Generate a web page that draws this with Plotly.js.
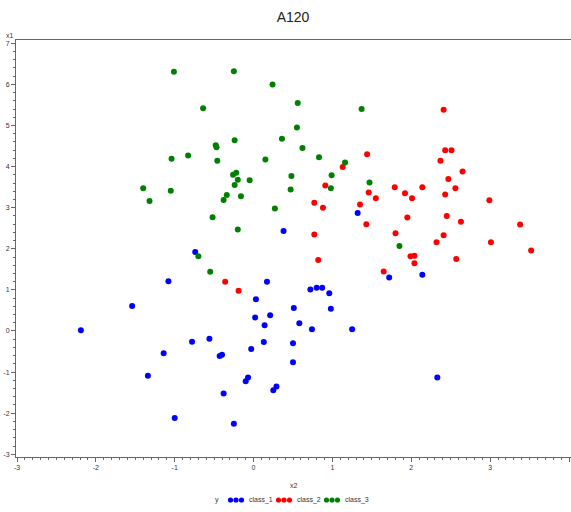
<!DOCTYPE html>
<html>
<head>
<meta charset="utf-8">
<script src="https://cdn.plot.ly/plotly-3.0.1.min.js"></script>
<style>
  html, body { margin: 0; padding: 0; background: #ffffff; }
  #chart { width: 571px; height: 512px; }
</style>
</head>
<body>
<div id="chart"></div>
<script>
// Class labels and colours
const classNames = ['class_1', 'class_2', 'class_3'];
const classColors = ['#0000ff', '#ff0000', '#008000'];

// class_1 observations (x2, x1)
const class1X2 = [-2.19, -1.54, -1.08, -0.74, 0.03, 0.02, -0.56, -0.78, -0.03, -1.14,
                  -0.43, -0.40, -1.34, -0.07, -0.10, -0.38, -1.00, -0.25, 0.38, 0.17,
                  0.72, 0.80, 0.87, 0.96, 0.51, 0.98, 0.21, 0.14, 0.58, 0.74,
                  1.25, 0.13, 0.50, 0.50, 0.29, 0.25, 2.33, 1.32, 1.72, 2.14];
const class1X1 = [0.02, 0.61, 1.21, 1.92, 0.77, 0.33, -0.19, -0.26, -0.44, -0.54,
                  -0.61, -0.58, -1.09, -1.13, -1.22, -1.52, -2.12, -2.26, 2.43, 1.20,
                  1.01, 1.05, 1.05, 0.92, 0.56, 0.54, 0.38, 0.14, 0.19, 0.04,
                  0.04, -0.27, -0.30, -0.76, -1.35, -1.44, -1.13, 2.87, 1.30, 1.37];

// class_2 observations (x2, x1)
const class2X2 = [1.13, 1.44, 0.91, 1.79, 1.46, 1.55, 0.77, 0.88, 1.35, 2.41,
                  2.43, 2.51, 2.37, 2.65, 2.47, 2.14, 2.56, 1.92, 2.01, 2.43,
                  2.99, 2.45, 1.95, 2.63, 1.43, 3.38, 0.77, 1.80, 2.41, 2.32,
                  3.01, 3.52, 1.99, 2.04, 2.04, 0.82, 2.57, 1.65, -0.36, -0.19];
const class2X1 = [3.99, 4.30, 3.54, 3.50, 3.37, 3.23, 3.12, 3.00, 3.08, 5.38,
                  4.40, 4.40, 4.14, 3.88, 3.70, 3.50, 3.47, 3.35, 3.23, 3.32,
                  3.18, 2.80, 2.76, 2.66, 2.60, 2.59, 2.35, 2.38, 2.33, 2.16,
                  2.16, 1.96, 1.82, 1.83, 1.65, 1.73, 1.75, 1.45, 1.20, 0.98];

// class_3 observations (x2, x1)
const class3X2 = [-1.01, -0.25, -0.64, -0.24, -0.47, -0.48, -1.04, -0.83, -0.46, -0.26,
                  -0.22, -0.20, -0.05, -0.24, -1.40, -1.05, -0.34, -0.16, -0.38, -1.32,
                  -0.52, 0.24, 0.56, 1.37, 0.55, 0.36, 0.62, 0.83, 0.15, 1.16,
                  0.48, 0.99, 0.98, 0.47, 1.47, 0.27, 1.85, -0.20, -0.70, -0.55];
const class3X1 = [6.31, 6.32, 5.42, 4.64, 4.47, 4.52, 4.19, 4.27, 4.14, 3.80,
                  3.85, 3.68, 3.67, 3.55, 3.47, 3.41, 3.31, 3.28, 3.19, 3.16,
                  2.77, 6.00, 5.55, 5.40, 4.95, 4.68, 4.45, 4.23, 4.17, 4.10,
                  3.77, 3.79, 3.47, 3.44, 3.61, 2.98, 2.07, 2.47, 1.82, 1.44];

// Axis tick values
const xTicks = [-3, -2, -1, 0, 1, 2, 3, 4];
const yTicks = [-3, -2, -1, 0, 1, 2, 3, 4, 5, 6, 7];

const seriesX = [class1X2, class2X2, class3X2];
const seriesY = [class1X1, class2X1, class3X1];

const traces = classNames.map((name, i) => ({
  type: 'scatter',
  mode: 'markers',
  name: name,
  x: seriesX[i],
  y: seriesY[i],
  marker: { color: classColors[i], size: 6, line: { width: 0 } },
  showlegend: false,
  hoverinfo: 'x+y+name'
}));

const W = 571, H = 512;
const M = { l: 16, r: 0, t: 40, b: 55 };
const plotW = W - M.l - M.r, plotH = H - M.t - M.b;
const px = v => (v - M.l) / plotW;          // page x -> paper x
const py = v => (H - M.b - v) / plotH;      // page y -> paper y

const tickFont = { family: 'Liberation Sans, Arial, sans-serif', size: 7, color: '#333333' };
const axisColor = '#666666';

// Legend row drawn beneath the x-axis title
const legendY = 500;
const legendDots = [228, 276, 324];
const legendText = [247, 295, 343];
const shapes = [];
legendDots.forEach((x0, i) => {
  for (let k = 0; k < 3; k++) {
    const cx = x0 + 2.5 + k * 5.5;
    shapes.push({
      type: 'circle', xref: 'paper', yref: 'paper',
      xsizemode: 'pixel', ysizemode: 'pixel',
      xanchor: px(cx), yanchor: py(legendY),
      x0: -2.6, x1: 2.6, y0: -2.6, y1: 2.6,
      fillcolor: classColors[i], line: { width: 0 }
    });
  }
});

const labelFont = { family: 'Liberation Sans, Arial, sans-serif', size: 7, color: '#333333' };
const annotations = [
  { text: 'x1', xref: 'paper', yref: 'paper', x: px(10), y: py(35),
    xanchor: 'center', yanchor: 'middle', showarrow: false, font: labelFont },
  { text: 'x2', xref: 'paper', yref: 'paper', x: px(294), y: py(485),
    xanchor: 'center', yanchor: 'middle', showarrow: false, font: labelFont },
  { text: 'y', xref: 'paper', yref: 'paper', x: px(217), y: py(legendY),
    xanchor: 'center', yanchor: 'middle', showarrow: false, font: labelFont }
];
legendText.forEach((x0, i) => {
  annotations.push({
    text: classNames[i], xref: 'paper', yref: 'paper', x: px(x0), y: py(legendY),
    xanchor: 'left', yanchor: 'middle', showarrow: false, font: labelFont
  });
});

const layout = {
  width: W, height: H,
  margin: M,
  paper_bgcolor: '#ffffff',
  plot_bgcolor: '#ffffff',
  title: {
    text: 'A120',
    font: { family: 'Liberation Sans, Arial, sans-serif', size: 14, color: '#222222' },
    x: 293 / W, xanchor: 'center',
    y: 1 - 17 / H, yanchor: 'middle'
  },
  xaxis: {
    range: [-3.0127, 4.0254],
    tickvals: xTicks,
    ticktext: xTicks.map(String),
    ticks: 'outside', ticklen: 4, tickwidth: 1, tickcolor: axisColor,
    minor: { dtick: 0.1, tick0: 0, ticks: 'outside', ticklen: 2, tickcolor: axisColor, showgrid: false },
    showgrid: false, zeroline: false,
    showline: true, linecolor: axisColor, linewidth: 1, mirror: true,
    tickfont: tickFont
  },
  yaxis: {
    range: [-3.066, 7.08],
    tickvals: yTicks,
    ticktext: yTicks.map(String),
    ticks: 'outside', ticklen: 4, tickwidth: 1, tickcolor: axisColor,
    minor: { dtick: 0.2, tick0: 0, ticks: 'outside', ticklen: 2, tickcolor: axisColor, showgrid: false },
    showgrid: false, zeroline: false,
    showline: true, linecolor: axisColor, linewidth: 1,
    tickfont: tickFont
  },
  shapes: shapes,
  annotations: annotations,
  showlegend: false
};

Plotly.newPlot('chart', traces, layout, { displayModeBar: false, staticPlot: true });
</script>
</body>
</html>
